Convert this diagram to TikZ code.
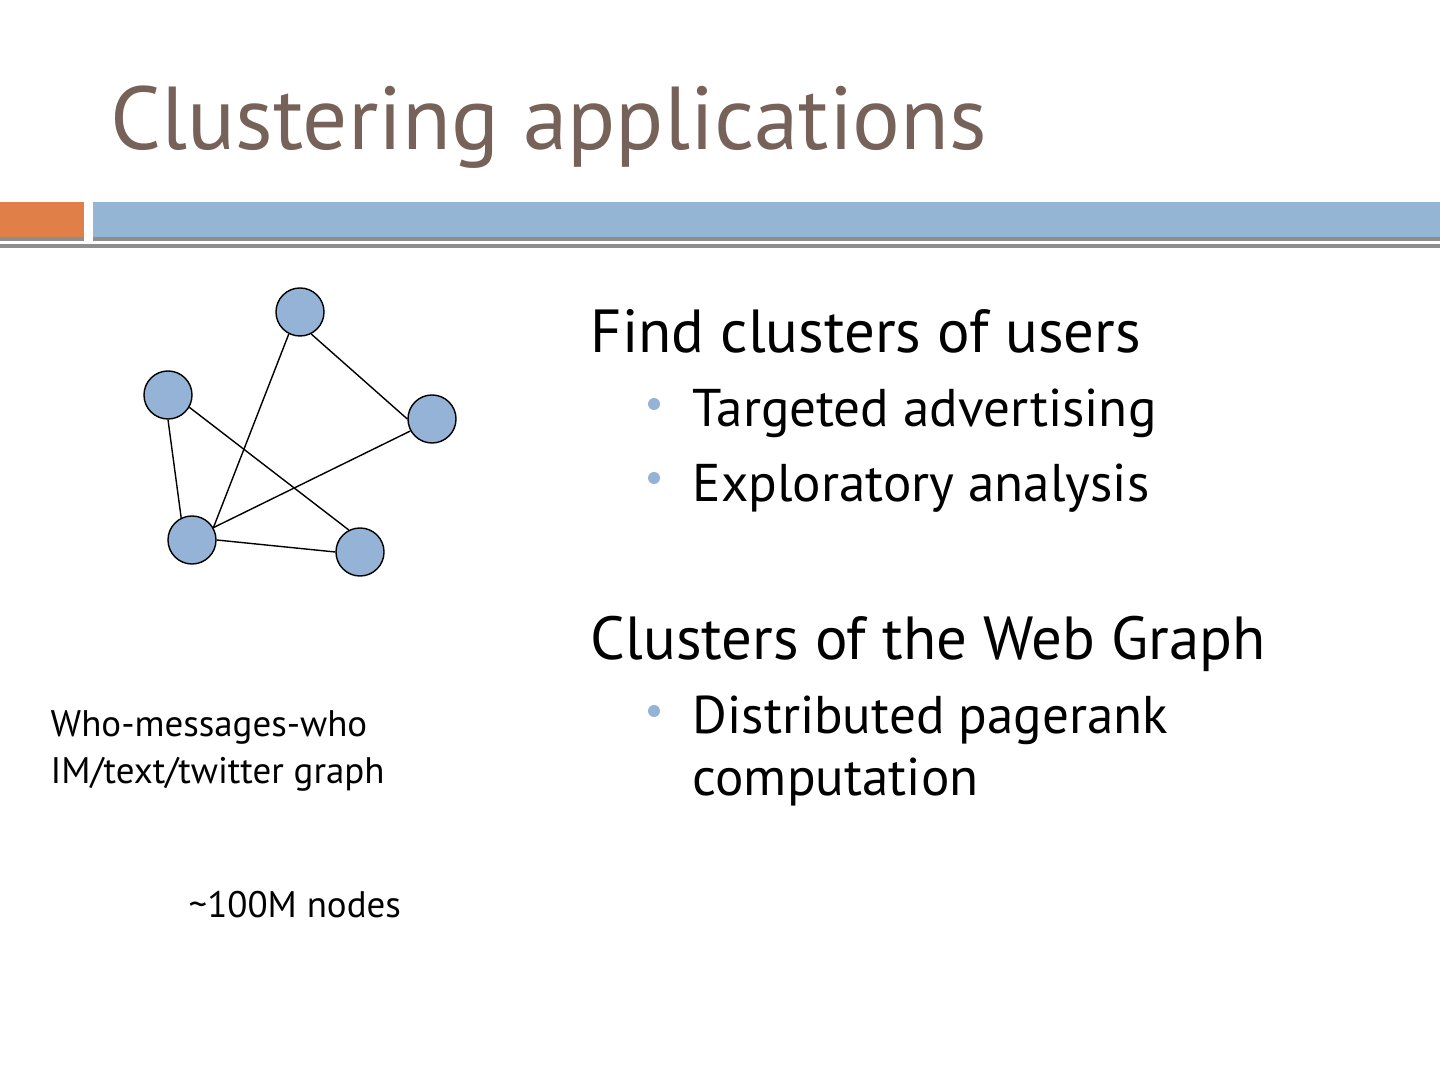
\documentclass[tikz,border=0pt]{standalone}
\usepackage{fontspec}
\setmainfont{PT Sans}
\usepackage{tikz}
\usetikzlibrary{positioning}
\definecolor{titlebrown}{RGB}{118,98,88}
\definecolor{barblue}{RGB}{148,182,212}
\definecolor{barorange}{RGB}{224,128,72}
\definecolor{bargray}{RGB}{142,142,142}
\definecolor{vertexblue}{RGB}{149,179,214}
\tikzset{
	vertex/.style={circle, draw=black, fill=vertexblue, line width=0.4pt, minimum size=0.48cm, inner sep=0pt},
	edge/.style={black, line width=0.4pt},
	heading/.style={anchor=base west, inner sep=0pt, font=\fontsize{17.3}{21}\selectfont},
	item/.style={anchor=base west, inner sep=0pt, font=\fontsize{15.1}{18}\selectfont},
	caption/.style={anchor=base west, inner sep=0pt, font=\fontsize{10.5}{12}\selectfont}
}

\begin{document}
\begin{tikzpicture}[x=0.01cm,y=-0.01cm]
	\useasboundingbox (0,0) rectangle (1440,1080);
	
	\begin{scope}
		\fill[barorange] (0,202) rectangle (84,237);
		\fill[barblue] (93,202) rectangle (1440,237);
		\fill[bargray] (0,237) rectangle (84,241);
		\fill[bargray] (93,237) rectangle (1440,241);
		\fill[bargray] (0,244) rectangle (1440,248);
		
		\node[anchor=base west, inner sep=0pt, text=titlebrown, font=\fontsize{25.4}{30}\selectfont] (title) at (110,150) {Clustering applications};
	\end{scope}
	
	\begin{scope}
		\node[vertex] (nTop) at (300,312) {};
		\node[vertex] (nLeft) at (168,395) {};
		\node[vertex] (nRight) at (432,419) {};
		\node[vertex] (nBotL) at (192,540) {};
		\node[vertex] (nBotR) at (360,552) {};
		
		\draw[edge] (nTop.-63) -- (nRight.180);
		\draw[edge] (nTop.-117) -- (nBotL.30);
		\draw[edge] (nLeft.-90) -- (nBotL.116);
		\draw[edge] (nLeft.-30) -- (nBotR.117);
		\draw[edge] (nRight.-151) -- (nBotL.30);
		\draw[edge] (nBotL.0) -- (nBotR.180);
		
		\node[caption] (who) at (50,737) {Who-messages-who};
		\node[caption] (im) at (50,783) {IM/text/twitter graph};
		\node[caption] (count) at (188,917) {\textasciitilde100M nodes};
	\end{scope}
	
	\begin{scope}
		\node[heading] (users) at (590,353) {Find clusters of users};
		\fill[vertexblue] (654,404) circle (0.6mm);
		\node[item] (ads) at (692,427) {Targeted advertising};
		\fill[vertexblue] (654,478) circle (0.6mm);
		\node[item] (explore) at (692,502) {Exploratory analysis};
		
		\node[heading] (web) at (590,660) {Clusters of the Web Graph};
		\fill[vertexblue] (654,711) circle (0.6mm);
		\node[item] (pagerank) at (692,733) {Distributed pagerank};
		\node[item] (comp) at (692,795) {computation};
	\end{scope}
	
\end{tikzpicture}
\end{document}
